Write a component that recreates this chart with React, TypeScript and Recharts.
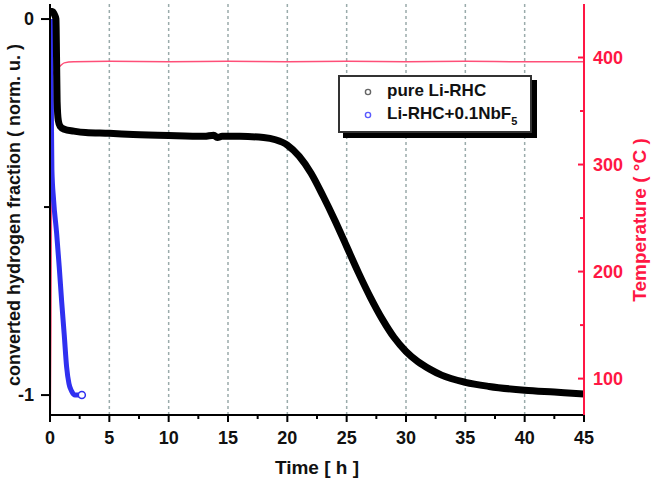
import { LineChart, Line, XAxis, YAxis, ReferenceLine, Legend } from "recharts";

// time axis (h)
const timeTicks = [0, 2.5, 5, 7.5, 10, 12.5, 15, 17.5, 20, 22.5, 25, 27.5, 30, 32.5, 35, 37.5, 40, 42.5, 45];
const gridTimes = [5, 10, 15, 20, 25, 30, 35, 40];
const fractionTicks = [-1, -0.5, 0];
const tempTicks = [100, 150, 200, 250, 300, 350, 400];

// pure Li-RHC
const pureTime = [0.05, 0.2, 0.4, 0.5, 0.55, 0.6, 0.7, 0.85, 1.2, 2, 3, 5, 7, 10, 13, 13.8, 14.1, 14.5, 16, 18, 19, 20, 21, 22, 23, 24, 25, 26, 27, 28, 29, 30, 31, 32, 33, 35, 37, 40, 42.5, 45];
const pureFrac = [0.02, 0.02, 0.01, 0, -0.1, -0.22, -0.27, -0.285, -0.293, -0.298, -0.302, -0.304, -0.307, -0.31, -0.312, -0.309, -0.315, -0.312, -0.312, -0.315, -0.321, -0.335, -0.365, -0.41, -0.47, -0.535, -0.605, -0.675, -0.74, -0.798, -0.847, -0.884, -0.911, -0.931, -0.947, -0.966, -0.977, -0.987, -0.992, -0.997];

// Li-RHC + 0.1NbF5
const nbTime = [0.05, 0.1, 0.13, 0.16, 0.3, 0.56, 0.78, 0.98, 1.2, 1.4, 1.6, 1.83, 2.1, 2.6];
const nbFrac = [0, -0.15, -0.3, -0.4, -0.48, -0.57, -0.66, -0.75, -0.84, -0.925, -0.97, -0.99, -1.0, -1.0];

// temperature (°C)
const tempTime = [0, 0.08, 0.14, 0.17, 0.3, 0.6, 0.85, 1.2, 2, 5, 10, 15, 20, 25, 30, 35, 40, 45];
const tempValue = [30, 150, 330, 380, 386, 390, 392, 395, 396, 396.5, 396, 396.5, 396, 396.5, 396, 396.5, 396, 396];

const pureData = pureTime.map((t, i) => ({ t, v: pureFrac[i] }));
const nbData = nbTime.map((t, i) => ({ t, v: nbFrac[i] }));
const tempData = tempTime.map((t, i) => ({ t, T: tempValue[i] }));

const FONT = "'Liberation Sans', Arial, sans-serif";
const RED = "#ff1744";
const TS = 6;
const TM = 2;

function TimeTick({ x, y, payload }: any) {
  const ay = y - TS - TM;
  const major = payload.value % 5 === 0;
  return (
    <g>
      <line x1={x} x2={x} y1={ay} y2={ay + (major ? 7 : 4)} stroke="#000" strokeWidth={2} />
      {major && (
        <text x={x} y={ay + 29} textAnchor="middle" fontSize={18} fontWeight="bold" fill="#111" fontFamily={FONT}>
          {payload.value}
        </text>
      )}
    </g>
  );
}

function FracTick({ x, y, payload }: any) {
  const ax = x + TS + TM;
  const major = Number.isInteger(payload.value);
  return (
    <g>
      <line x1={ax - (major ? 9 : 6)} x2={ax} y1={y} y2={y} stroke="#000" strokeWidth={2} />
      {major && (
        <text x={ax - 16} y={y + 6} textAnchor="end" fontSize={18} fontWeight="bold" fill="#111" fontFamily={FONT}>
          {payload.value === 0 ? "0" : "-1"}
        </text>
      )}
    </g>
  );
}

function TempTick({ x, y, payload }: any) {
  const ax = x - TS - TM;
  const major = payload.value % 100 === 0;
  return (
    <g>
      <line x1={ax - (major ? 6 : 4)} x2={ax} y1={y} y2={y} stroke={RED} strokeWidth={2} />
      {major && (
        <text x={ax + 9} y={y + 6} textAnchor="start" fontSize={18} fontWeight="bold" fill={RED} fontFamily={FONT}>
          {payload.value}
        </text>
      )}
    </g>
  );
}

function NbDot(props: any) {
  const { cx, cy, index } = props;
  if (index !== nbData.length - 1) return <g key={`d${index}`} />;
  return <circle key={`d${index}`} cx={cx + 1} cy={cy} r={3.5} fill="#fff" stroke="#3030f0" strokeWidth={1.5} />;
}

function LegendBox() {
  return (
    <div style={{ position: "relative", width: 194, height: 58, fontFamily: FONT }}>
      <div style={{ position: "absolute", left: 5, top: 5, width: 194, height: 58, background: "#000" }} />
      <div
        style={{
          position: "absolute",
          left: 0,
          top: 0,
          width: 190,
          height: 54,
          background: "#fff",
          border: "2px solid #333",
        }}
      >
        <svg width={12} height={40} style={{ position: "absolute", left: 22, top: 5 }}>
          <circle cx={6} cy={10} r={2.6} fill="none" stroke="#666" strokeWidth={1.4} />
          <circle cx={6} cy={33} r={2.6} fill="none" stroke="#5a5aff" strokeWidth={1.4} />
        </svg>
        <div style={{ position: "absolute", left: 47, top: 4, fontSize: 17, fontWeight: "bold", color: "#111", whiteSpace: "nowrap" }}>
          pure Li-RHC
        </div>
        <div style={{ position: "absolute", left: 47, top: 27, fontSize: 17, fontWeight: "bold", color: "#111", whiteSpace: "nowrap" }}>
          Li-RHC+0.1NbF<sub style={{ fontSize: 11, verticalAlign: -6 }}>5</sub>
        </div>
      </div>
    </div>
  );
}

export default function App() {
  return (
    <div style={{ position: "absolute", left: 0, top: 0, background: "#fff" }}>
      <LineChart width={656} height={485} margin={{ top: 4, right: 0, bottom: 0, left: 0 }} style={{ fontFamily: FONT }}>
        {gridTimes.map((g) => (
          <ReferenceLine key={g} x={g} yAxisId="frac" stroke="#9aabab" strokeWidth={1.5} strokeDasharray="3 3" />
        ))}
        <XAxis
          dataKey="t"
          type="number"
          domain={[0, 45]}
          ticks={timeTicks}
          interval={0}
          height={70}
          tickSize={TS}
          tickMargin={TM}
          tickLine={false}
          tick={<TimeTick />}
          axisLine={{ stroke: "#000", strokeWidth: 2 }}
          allowDataOverflow
          label={{
            content: (p: any) => {
              const vb = p.viewBox || { x: 50, y: 415, width: 534 };
              return (
                <text x={vb.x + vb.width / 2} y={vb.y + 59} textAnchor="middle" fontSize={19} fontWeight="bold" fill="#111" fontFamily={FONT}>
                  Time [ h ]
                </text>
              );
            },
          }}
        />
        <XAxis
          xAxisId="top"
          orientation="top"
          type="number"
          domain={[0, 45]}
          height={0}
          tick={false}
          tickLine={false}
          axisLine={{ stroke: "#000", strokeWidth: 2 }}
        />
        <YAxis
          yAxisId="frac"
          type="number"
          domain={[-1.053, 0.04]}
          ticks={fractionTicks}
          interval={0}
          width={50}
          tickSize={TS}
          tickMargin={TM}
          tickLine={false}
          tick={<FracTick />}
          axisLine={{ stroke: "#000", strokeWidth: 2 }}
          allowDataOverflow
          label={{
            content: () => (
              <text
                x={20}
                y={215}
                transform="rotate(-90, 20, 215)"
                textAnchor="middle"
                fontSize={18}
                fontWeight="bold"
                fill="#111"
                fontFamily={FONT}
              >
                converted hydrogen fraction ( norm. u. )
              </text>
            ),
          }}
        />
        <YAxis
          yAxisId="temp"
          orientation="right"
          type="number"
          domain={[66, 450]}
          ticks={tempTicks}
          interval={0}
          width={72}
          tickSize={TS}
          tickMargin={TM}
          tickLine={false}
          tick={<TempTick />}
          axisLine={{ stroke: RED, strokeWidth: 2 }}
          allowDataOverflow
          label={{
            content: () => (
              <text
                x={646}
                y={220}
                transform="rotate(-90, 646, 220)"
                textAnchor="middle"
                fontSize={19}
                fontWeight="bold"
                fill={RED}
                fontFamily={FONT}
              >
                Temperature ( °C )
              </text>
            ),
          }}
        />
        <Line
          data={tempData}
          yAxisId="temp"
          dataKey="T"
          type="monotone"
          stroke="#ff4f78"
          strokeWidth={1.5}
          dot={false}
          isAnimationActive={false}
        />
        <Line
          data={nbData}
          yAxisId="frac"
          dataKey="v"
          name="Li-RHC+0.1NbF5"
          type="monotone"
          stroke="#3030f0"
          strokeWidth={5}
          dot={<NbDot />}
          isAnimationActive={false}
        />
        <Line
          data={pureData}
          yAxisId="frac"
          dataKey="v"
          name="pure Li-RHC"
          type="monotone"
          stroke="#000"
          strokeWidth={7}
          dot={false}
          isAnimationActive={false}
        />
        <Legend
          layout="vertical"
          verticalAlign="middle"
          align="center"
          content={<LegendBox />}
          wrapperStyle={{ position: "absolute", left: 338, top: 75, width: 200, height: 64 }}
        />
      </LineChart>
    </div>
  );
}
